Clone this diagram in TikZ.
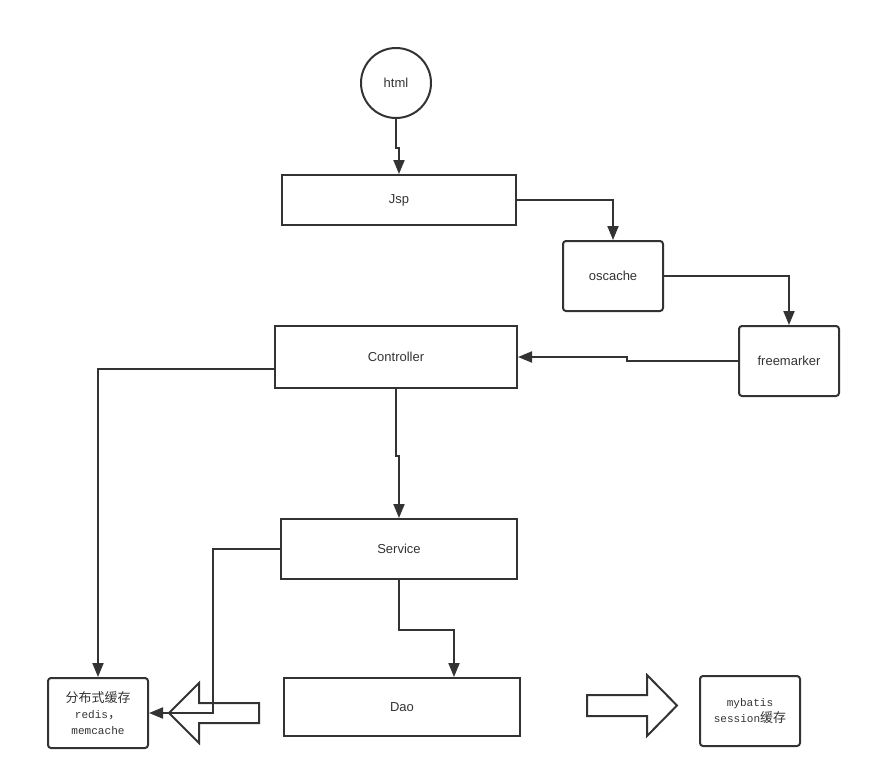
\documentclass[tikz,border=0pt]{standalone}
\usepackage{fontspec}
\setmainfont{Liberation Sans}
\newfontfamily\cjk{Noto Sans CJK SC}
\newfontfamily\monof[Scale=0.85]{Liberation Mono}
\usetikzlibrary{arrows.meta}
\definecolor{ln}{HTML}{333333}
\tikzset{
  box/.style={draw=ln, line width=2pt, rectangle, font=\fontsize{13}{16}\selectfont, text=ln, inner sep=0pt, align=center},
  rbox/.style={box, rounded corners=3pt},
  arr/.style={draw=ln, line width=2pt, -{Triangle[length=14pt,width=11pt]}},
  fat/.style={draw=ln, line width=2pt, line join=miter},
}
\begin{document}
\begin{tikzpicture}[x=1pt,y=-1pt]
\useasboundingbox (0,0) rectangle (871,780);
\node[box, circle, minimum size=70pt] (html) at (396,83) {html};
\node[box, minimum width=234pt, minimum height=50pt] (jsp) at (399,200) {Jsp};
\node[rbox, minimum width=100pt, minimum height=70pt] (oscache) at (613,276) {oscache};
\node[rbox, minimum width=100pt, minimum height=70pt] (free) at (789,361) {freemarker};
\node[box, minimum width=242pt, minimum height=62pt] (ctrl) at (396,357) {Controller};
\node[box, minimum width=236pt, minimum height=60pt] (svc) at (399,549) {Service};
\node[box, minimum width=236pt, minimum height=58pt] (dao) at (402,707) {Dao};
\node[rbox, minimum width=100pt, minimum height=70pt] (cache) at (98,713)
  {{\cjk 分布式缓存}\\{\monof redis}{\cjk ，}\\{\monof memcache}};
\node[rbox, minimum width=100pt, minimum height=70pt] (mybatis) at (750,711)
  {{\monof mybatis}\\{\monof session}{\cjk 缓存}};

\draw[arr] (html.south) -- ++(0,29) -| (jsp.north);
\draw[arr] (jsp.east) -| (oscache.north);
\draw[arr] (oscache.east) -| (free.north);
\draw[arr] (free.west) -- ++(-111,0) |- (ctrl.east);
\draw[arr] (ctrl.south) -- ++(0,67) -| (svc.north);
\draw[arr] ([yshift=-12pt]ctrl.west) -| (cache.north);
\draw[arr] (svc.south) -- ++(0,50) -| ([xshift=52pt]dao.north);
\draw[arr] (svc.west) -- ++(-67,0) |- (cache.east);

\draw[fat] (169,713) -- (199,683) -- (199,703) -- (259,703) -- (259,723) -- (199,723) -- (199,743) -- cycle;
\draw[fat] (587,695) -- (647,695) -- (647,675) -- (677,705.5) -- (647,736) -- (647,716) -- (587,716) -- cycle;
\end{tikzpicture}
\end{document}
